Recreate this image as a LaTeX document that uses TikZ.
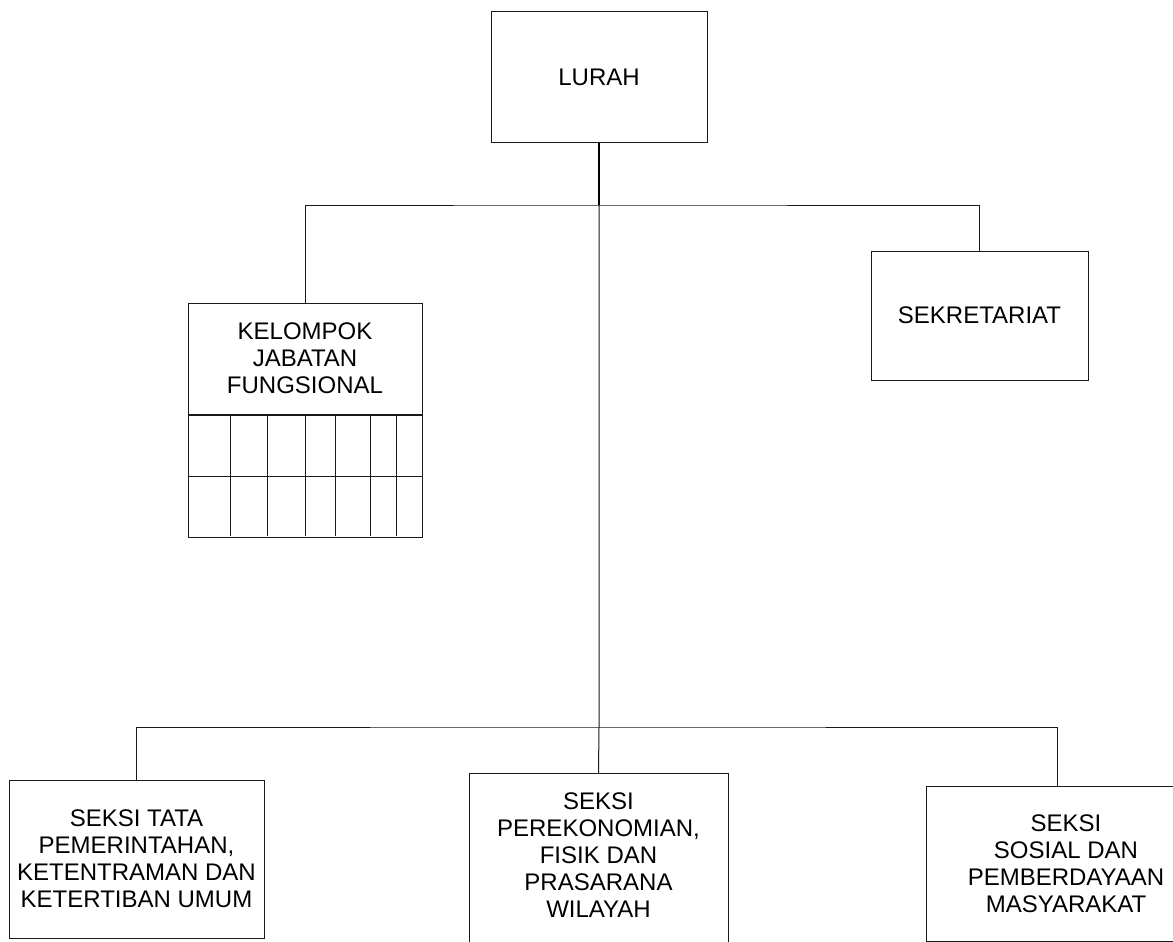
\documentclass[tikz,border=0pt]{standalone}
\usepackage{fontspec}
\setmainfont{Liberation Sans}
\begin{document}
\begin{tikzpicture}[x=1pt,y=-1pt,
  box/.style={draw=black!90, line width=1pt, fill=white, align=center, inner sep=0pt,
    font=\fontsize{24}{27}\selectfont},
  lbl/.style={align=center, inner sep=0pt, font=\fontsize{24}{27}\selectfont},
  conn/.style={draw=black!90, line width=1pt}]
\useasboundingbox (0,0) rectangle (1173,942);
% boxes
\node[box, minimum width=216, minimum height=130] (lurah) at (599,77) {LURAH};
\node[box, minimum width=217, minimum height=129] (sek) at (979.5,315.5) {SEKRETARIAT};
\node[box, minimum width=234, minimum height=111] (kjf) at (305,358.5) {KELOMPOK\\JABATAN\\FUNGSIONAL};
\node[box, minimum width=234, minimum height=122, anchor=north] (grid) at (kjf.south) {};
\draw[conn] (grid.west) -- (grid.east);
\foreach \gx in {230,267,305,335,370,396} \draw[conn] (\gx,414) -- (\gx,536);
\node[box, minimum width=255, minimum height=158] (s1) at (136.5,859) {SEKSI TATA\\PEMERINTAHAN,\\KETENTRAMAN DAN\\KETERTIBAN UMUM};
\node[box, minimum width=259, minimum height=200, anchor=north] (s2) at (598.5,773) {};
\node[lbl] (s2t) at (598.5,855) {SEKSI\\PEREKONOMIAN,\\FISIK DAN\\PRASARANA\\WILAYAH};
\node[box, minimum width=280, minimum height=155] (s3) at (1066,863.5) {SEKSI\\SOSIAL DAN\\PEMBERDAYAAN\\MASYARAKAT};
% junctions
\coordinate (j1) at (599,205);
\coordinate (j2) at (599,727);
\coordinate (j3) at (1057,727);
\coordinate (j3b) at (1057,786);
% connectors
\draw[conn, line width=1.4pt, draw=black] (lurah.south) -- (j1);
\draw[conn] (j1) -- (j2) -- (s2.north);
\draw[conn] (kjf.north) |- (j1) -| (sek.north);
\draw[conn] (s1.north) |- (j2) -- (j3) -- (j3b);
\end{tikzpicture}
\end{document}
